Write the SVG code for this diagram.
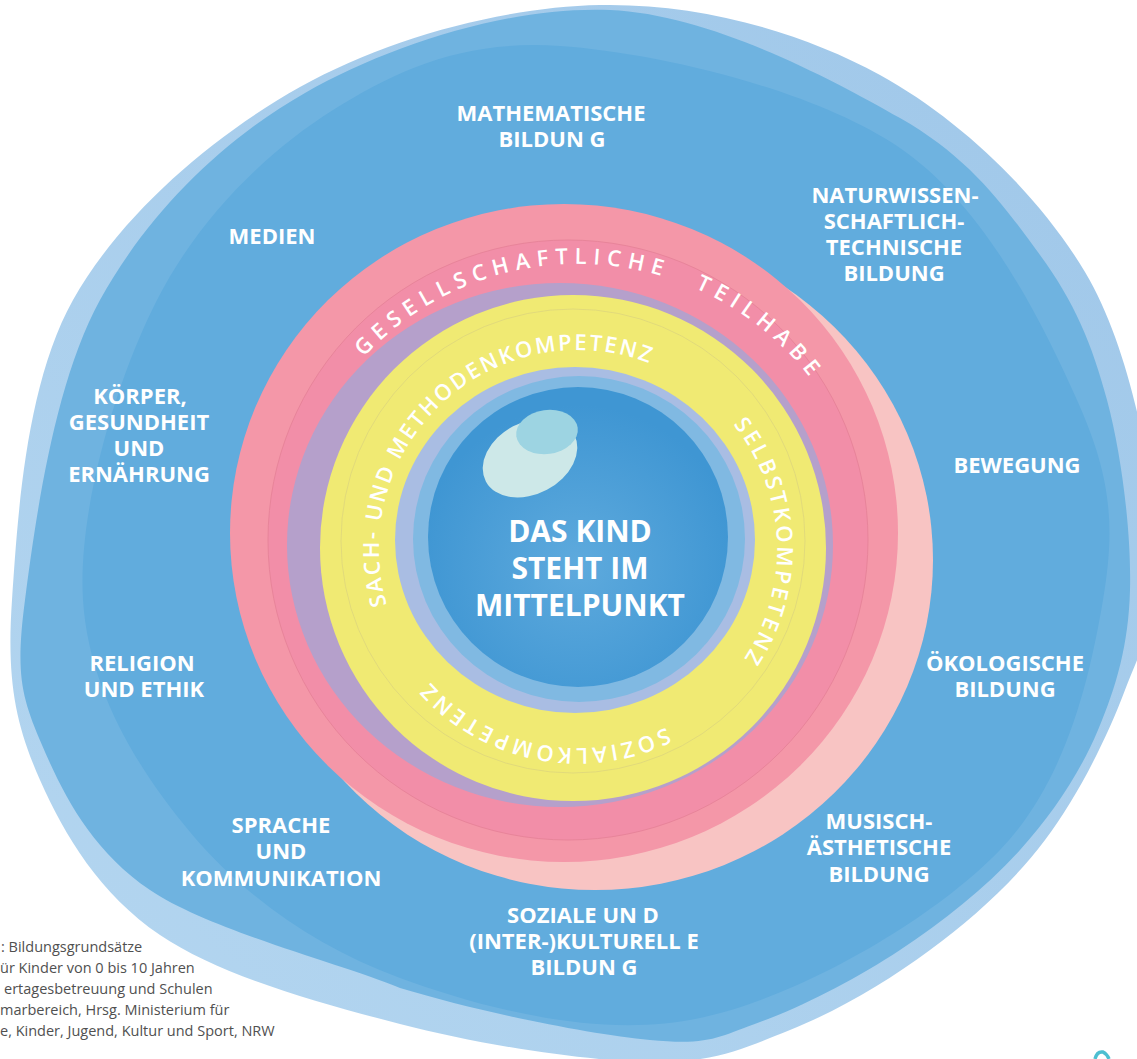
<svg xmlns="http://www.w3.org/2000/svg" width="1137" height="1059" viewBox="0 0 1137 1059">
<defs>
<linearGradient id="gLight" x1="1" y1="0" x2="0" y2="1">
<stop offset="0" stop-color="#9fc7e9"/>
<stop offset="1" stop-color="#b4d6f0"/>
</linearGradient>
<radialGradient id="gCore" cx="578" cy="565" r="160" gradientUnits="userSpaceOnUse">
<stop offset="0" stop-color="#5eaadd"/>
<stop offset="1" stop-color="#3f96d3"/>
</radialGradient>
<path id="tpGT" d="M285,557 A293,293 0 1 1 871,557 A293,293 0 1 1 285,557"/>
<path id="tpYb" d="M578,748 A199,199 0 1 1 578,350 A199,199 0 1 1 578,748"/>
<path id="tpYr" d="M777,549 A199,199 0 1 1 379,549 A199,199 0 1 1 777,549"/>
</defs>
<style>
text{font-family:"Open Sans","Noto Sans","DejaVu Sans",sans-serif}
.lbl{font-size:22px;font-weight:700;fill:#fff;text-anchor:middle}
.arc{font-size:22px;font-weight:600;fill:#fff}
.core{font-size:30px;font-weight:700;fill:#fff;text-anchor:middle}
.src{font-size:14.5px;font-weight:400;fill:#505050}
</style>
<rect width="1137" height="1059" fill="#ffffff"/>
<g id="outer-blue">
<path fill="url(#gLight)" d="M600,5 C696.7,3 799.2,30.5 880,75 C960.8,119.5 1038.7,194.5 1085,272 C1131.3,349.5 1151.3,470.3 1158,540 C1164.7,609.7 1143.8,640 1125,690 C1106.2,740 1077.5,796.7 1045,840 C1012.5,883.3 972.5,918.3 930,950 C887.5,981.7 836.7,1011.3 790,1030 C743.3,1048.7 715,1063 650,1062 C585,1061 481.7,1045.2 400,1024 C318.3,1002.8 220,975.7 160,935 C100,894.3 64.7,835.8 40,780 C15.3,724.2 6.5,680 12,600 C17.5,520 25,385.5 73,300 C121,214.5 212.2,136.2 300,87 C387.8,37.8 503.3,7 600,5 Z"/>
<path fill="#6fb3e0" d="M610,10 C709.2,14.2 828.3,77.2 900,118 C971.7,158.8 1005.5,208 1040,255 C1074.5,302 1092,344.2 1107,400 C1122,455.8 1131.5,535 1130,590 C1128.5,645 1116.3,686.7 1098,730 C1079.7,773.3 1053,813.3 1020,850 C987,886.7 943.3,921.3 900,950 C856.7,978.7 801.7,1007 760,1022 C718.3,1037 710,1045.7 650,1040 C590,1034.3 483.3,1013 400,988 C340.3,963 209.7,930.5 150,890 C90.3,849.5 62.8,793.3 42,745 C21.2,696.7 15.3,674.2 25,600 C34.7,525.8 53.3,384.5 100,300 C146.7,215.5 220,141.3 305,93 C390,44.7 510.8,5.8 610,10 Z"/>
<path fill="#61acdd" d="M560,46 C654.5,52.3 813.8,89 900,148 C986.2,207 1043.2,324.7 1077,400 C1110.8,475.3 1115.8,525 1103,600 C1090.2,675 1067.2,780.3 1000,850 C932.8,919.7 800,996.7 700,1018 C600,1039.3 485,1009 400,978 C315,947 242.8,895 190,832 C137.2,769 88.5,688.7 83,600 C77.5,511.3 115.3,381.7 157,300 C198.7,218.3 265.8,152.3 333,110 C400.2,67.7 465.5,39.7 560,46 Z"/>
</g>
<g id="rings">
<ellipse cx="595" cy="560" rx="338" ry="330" fill="#f8c4c3"/>
<ellipse cx="564" cy="533" rx="334" ry="329" fill="#f497a8"/>
<circle cx="568" cy="540" r="300" fill="#f28ea8" stroke="#e8849a" stroke-width="1"/>
<ellipse cx="560" cy="545" rx="273" ry="262" fill="#b5a0cb"/>
<circle cx="573" cy="548" r="253" fill="#f0ea73"/>
<circle cx="573" cy="541" r="232" fill="none" stroke="#ddd57c" stroke-width="0.8"/>
<ellipse cx="575" cy="540" rx="180" ry="173" fill="#a9bde3"/>
<ellipse cx="579" cy="539" rx="166" ry="163" fill="#80b9e2"/>
<circle cx="578" cy="537" r="150" fill="url(#gCore)"/>
<ellipse cx="530" cy="458" rx="50" ry="36" transform="rotate(-28 530 458)" fill="#cde8e8"/>
<ellipse cx="547" cy="432" rx="31" ry="22" transform="rotate(-8 547 432)" fill="#9dd4e2"/>
</g>
<g id="ring-labels">
<text class="arc" letter-spacing="6.6"><textPath href="#tpGT" startOffset="219.7">GESELLSCHAFTLICHE</textPath></text>
<text class="arc" letter-spacing="6.4"><textPath href="#tpGT" startOffset="580.6">TEILHABE</textPath></text>
<text class="arc" letter-spacing="2.3"><textPath href="#tpYb" startOffset="255.7">SACH- UND METHODENKOMPETENZ</textPath></text>
<text class="arc" letter-spacing="3.1"><textPath href="#tpYb" startOffset="803">SELBSTKOMPETENZ</textPath></text>
<text class="arc" letter-spacing="3.6"><textPath href="#tpYr" startOffset="221">SOZIALKOMPETENZ</textPath></text>
</g>
<g id="center">
<text class="core" x="580" y="542">DAS KIND</text>
<text class="core" x="580" y="579">STEHT IM</text>
<text class="core" x="580" y="616">MITTELPUNKT</text>
</g>
<g id="node-math"><text class="lbl" x="551" y="121">MATHEMATISCHE</text><text class="lbl" x="552" y="147">BILDUN G</text></g>
<g id="node-medien"><text class="lbl" x="272" y="244">MEDIEN</text></g>
<g id="node-natur"><text class="lbl" x="895" y="203">NATURWISSEN-</text><text class="lbl" x="894" y="229">SCHAFTLICH-</text><text class="lbl" x="894" y="255">TECHNISCHE</text><text class="lbl" x="894" y="281">BILDUNG</text></g>
<g id="node-koerper"><text class="lbl" x="140" y="404">KÖRPER,</text><text class="lbl" x="139" y="430">GESUNDHEIT</text><text class="lbl" x="139" y="456">UND</text><text class="lbl" x="139" y="482">ERNÄHRUNG</text></g>
<g id="node-bewegung"><text class="lbl" x="1017" y="473">BEWEGUNG</text></g>
<g id="node-religion"><text class="lbl" x="142" y="671">RELIGION</text><text class="lbl" x="144" y="697">UND ETHIK</text></g>
<g id="node-oeko"><text class="lbl" x="1005" y="671">ÖKOLOGISCHE</text><text class="lbl" x="1005" y="697">BILDUNG</text></g>
<g id="node-sprache"><text class="lbl" x="281" y="833">SPRACHE</text><text class="lbl" x="281" y="859">UND</text><text class="lbl" x="281" y="886">KOMMUNIKATION</text></g>
<g id="node-musisch"><text class="lbl" x="879" y="829">MUSISCH-</text><text class="lbl" x="879" y="855">ÄSTHETISCHE</text><text class="lbl" x="879" y="882">BILDUNG</text></g>
<g id="node-sozial"><text class="lbl" x="583" y="923">SOZIALE UN D</text><text class="lbl" x="584" y="949">(INTER-)KULTURELL E</text><text class="lbl" x="584" y="975">BILDUN G</text></g>
<g id="source">
<text class="src" x="1" y="952">: Bildungsgrundsätze</text>
<text class="src" x="0" y="973">ür Kinder von 0 bis 10 Jahren</text>
<text class="src" x="4" y="994">ertagesbetreuung und Schulen</text>
<text class="src" x="0" y="1015">marbereich, Hrsg. Ministerium für</text>
<text class="src" x="0" y="1036">e, Kinder, Jugend, Kultur und Sport, NRW</text>
</g>
<path d="M1095,1059 Q1097,1051 1103,1052 Q1107,1054 1109,1059" fill="none" stroke="#4dbfd1" stroke-width="3.5"/>
</svg>
